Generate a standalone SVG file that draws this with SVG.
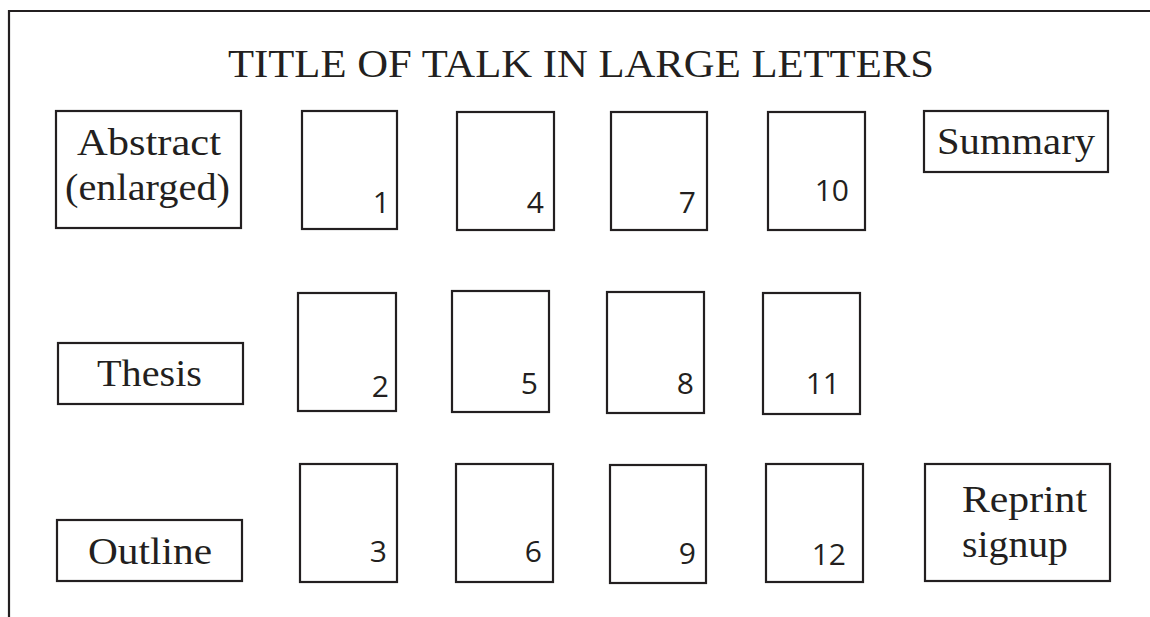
<svg xmlns="http://www.w3.org/2000/svg" width="1150" height="617" viewBox="0 0 1150 617">
<style>
.box{fill:#fff;stroke:#231f20;stroke-width:2.2}
.lbl{font-family:"Liberation Serif",serif;font-size:37px;fill:#231f20}
.num{font-family:"Open Sans","Noto Sans",sans-serif;font-size:30px;fill:#231f20;text-anchor:end}
.ttl{font-family:"Liberation Serif",serif;font-size:40px;fill:#231f20}
</style>
<rect width="1150" height="617" fill="#fff"/>
<g id="frame" fill="none" stroke="#231f20" stroke-width="2.2">
<path d="M9,617 V11 H1150"/>
</g>
<g id="title"><text class="ttl" x="228" y="77" textLength="706" lengthAdjust="spacingAndGlyphs">TITLE OF TALK IN LARGE LETTERS</text></g>
<g id="abstract"><rect class="box" x="56" y="111" width="185" height="117"/>
<text class="lbl" x="77" y="155" textLength="144" lengthAdjust="spacingAndGlyphs">Abstract</text>
<text class="lbl" x="65" y="200" textLength="165" lengthAdjust="spacingAndGlyphs">(enlarged)</text></g>
<g id="thesis"><rect class="box" x="58" y="343" width="185" height="61"/>
<text class="lbl" x="97" y="386" textLength="105" lengthAdjust="spacingAndGlyphs">Thesis</text></g>
<g id="outline"><rect class="box" x="57" y="520" width="185" height="61"/>
<text class="lbl" x="88" y="564" textLength="124" lengthAdjust="spacingAndGlyphs">Outline</text></g>
<g id="summary"><rect class="box" x="924" y="111" width="184" height="61"/>
<text class="lbl" x="937" y="154" textLength="158" lengthAdjust="spacingAndGlyphs">Summary</text></g>
<g id="reprint"><rect class="box" x="925" y="464" width="185" height="117"/>
<text class="lbl" x="962" y="512" textLength="125" lengthAdjust="spacingAndGlyphs">Reprint</text>
<text class="lbl" x="962" y="557" textLength="106" lengthAdjust="spacingAndGlyphs">signup</text></g>
<g id="slide1"><rect class="box" x="302" y="111" width="95" height="118"/><text class="num" x="390" y="213">1</text></g>
<g id="slide2"><rect class="box" x="298" y="293" width="98" height="118"/><text class="num" x="389" y="397">2</text></g>
<g id="slide3"><rect class="box" x="300" y="464" width="97" height="118"/><text class="num" x="387" y="562">3</text></g>
<g id="slide4"><rect class="box" x="457" y="112" width="97" height="118"/><text class="num" x="544" y="213">4</text></g>
<g id="slide5"><rect class="box" x="452" y="291" width="97" height="121"/><text class="num" x="538" y="394">5</text></g>
<g id="slide6"><rect class="box" x="456" y="464" width="97" height="118"/><text class="num" x="542" y="562">6</text></g>
<g id="slide7"><rect class="box" x="611" y="112" width="96" height="118"/><text class="num" x="696" y="213">7</text></g>
<g id="slide8"><rect class="box" x="607" y="292" width="97" height="121"/><text class="num" x="694" y="394">8</text></g>
<g id="slide9"><rect class="box" x="610" y="465" width="96" height="118"/><text class="num" x="696" y="564">9</text></g>
<g id="slide10"><rect class="box" x="768" y="112" width="97" height="118"/><text class="num" x="849" y="201">10</text></g>
<g id="slide11"><rect class="box" x="763" y="293" width="97" height="121"/><text class="num" x="840" y="394">11</text></g>
<g id="slide12"><rect class="box" x="766" y="464" width="97" height="118"/><text class="num" x="846" y="565">12</text></g>
<g id="connectors"/>
</svg>
